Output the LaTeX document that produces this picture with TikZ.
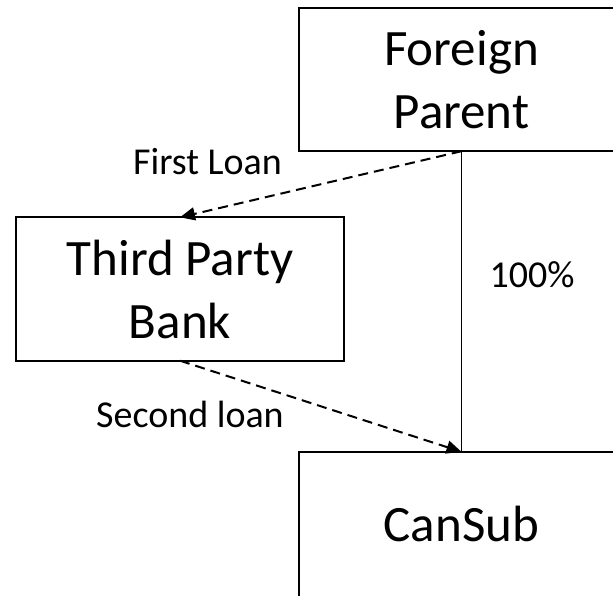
\documentclass[tikz,border=0pt]{standalone}
\usepackage{fontspec}
\setmainfont{Carlito}
\usetikzlibrary{arrows.meta}
\tikzset{
  entity/.style={rectangle, inner sep=0pt,
    minimum width=324pt, minimum height=143pt, align=center,
    font=\fontsize{51}{63}\selectfont},
  frame/.style={draw=black, line width=2.2pt},
  loan/.style={draw=black, line width=2pt, dash pattern=on 10pt off 6pt,
    -{Triangle[length=15pt,width=13pt]}},
  own/.style={draw=black, line width=1.6pt},
  tag/.style={anchor=base, inner sep=0pt, font=\fontsize{38}{45}\selectfont}
}
\begin{document}
\begin{tikzpicture}[x=1pt,y=-1pt]
  \useasboundingbox (0,0) rectangle (613,595);
  \clip (0,0) rectangle (613,595);
  % entities
  \node[entity] (fp) at (461.5,79.5) {Foreign\\Parent};
  \node[entity, minimum width=328pt] (tpb) at (180,289) {Third Party\\Bank};
  \node[entity] (cs) at (461.5,523.5) {CanSub};
  % box outlines; the two right-hand boxes run on past the page edge
  \draw[frame] (fp.north west) rectangle ([xshift=60pt]fp.south east);
  \draw[frame] (tpb.north west) rectangle (tpb.south east);
  \draw[frame] (cs.north west) rectangle ([xshift=60pt,yshift=-60pt]cs.south east);
  % ownership
  \draw[own] (fp.south) -- (cs.north);
  % loans
  \draw[loan] (fp.south) -- (tpb.north);
  \draw[loan] (tpb.south) -- (cs.north);
  % labels
  \node[tag] (l1) at (207.5,174) {First Loan};
  \node[tag] (l2) at (190,427) {Second loan};
  \node[tag] (l3) at (532,287) {100\%};
\end{tikzpicture}
\end{document}
